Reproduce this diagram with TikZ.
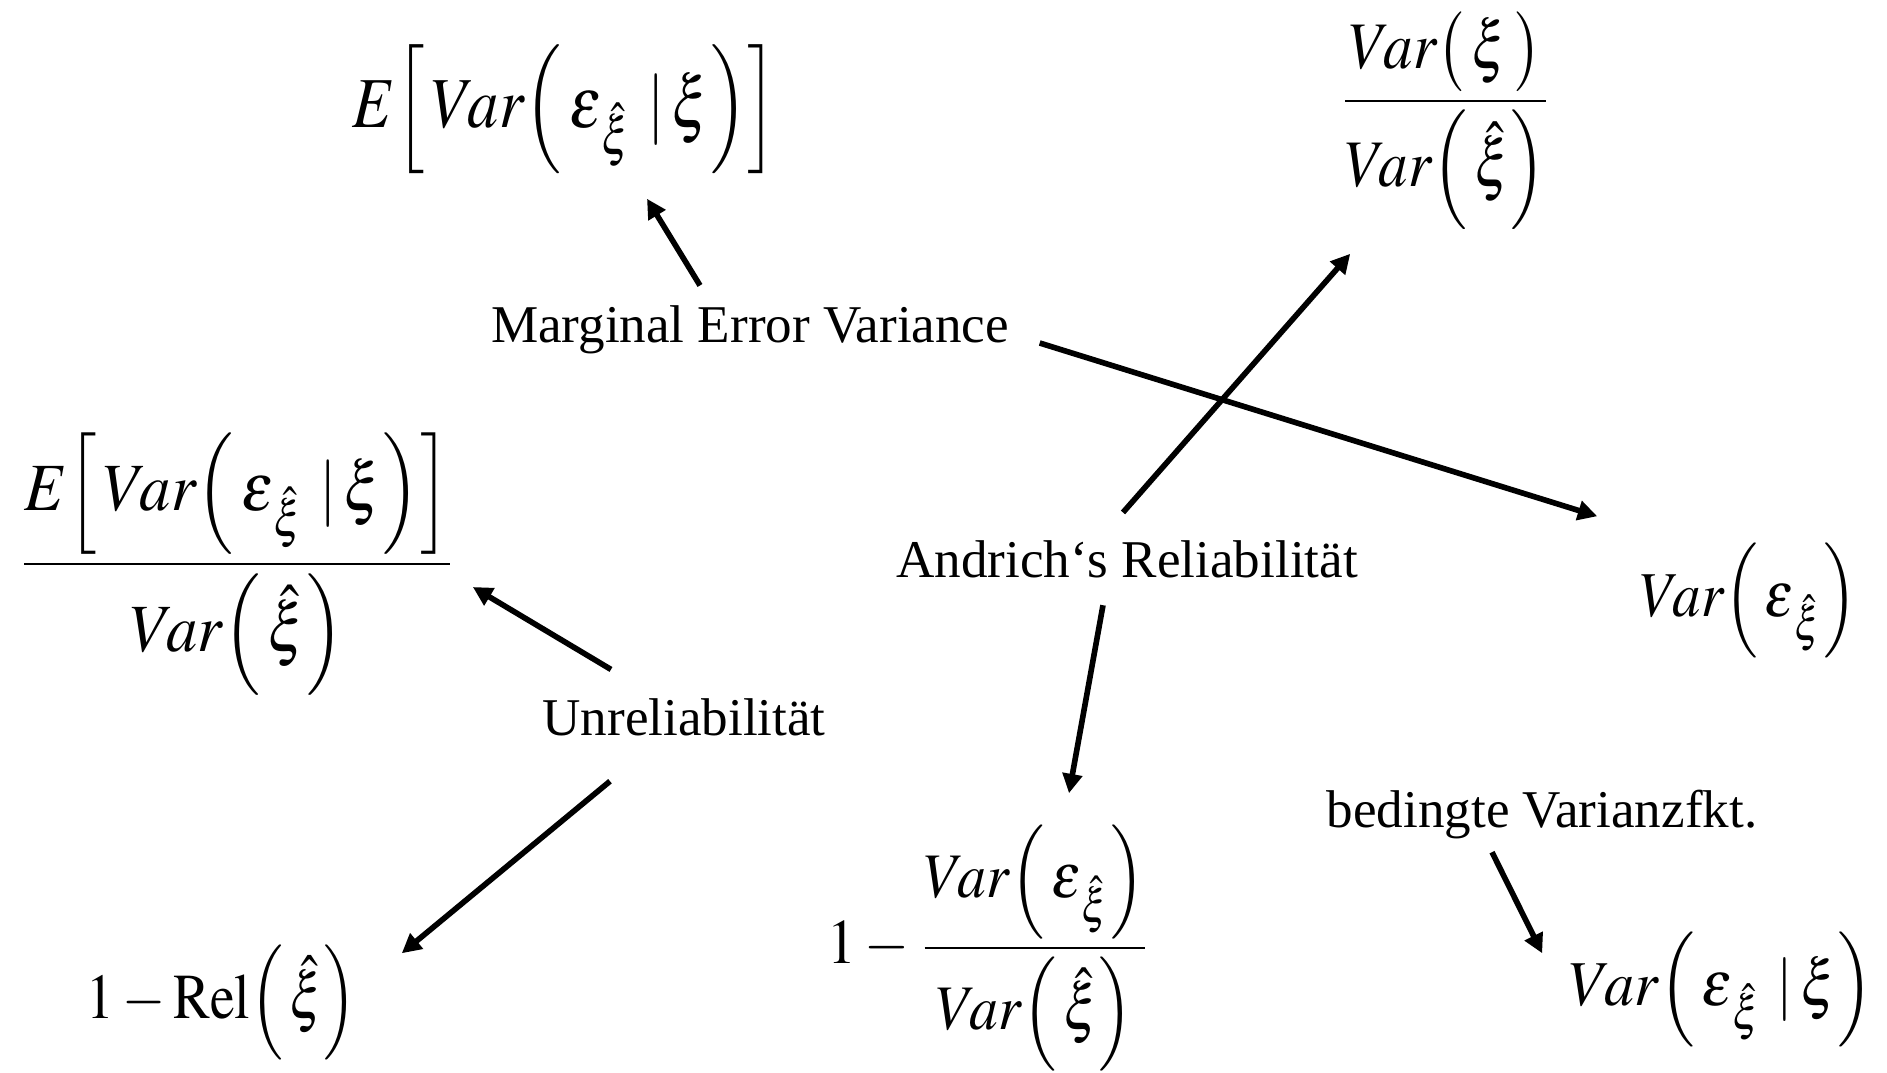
\documentclass[tikz,border=0pt]{standalone}
\usepackage{amsmath}
\usepackage{mathptmx}
\usepackage[no-math]{fontspec}
\setmainfont{Liberation Serif}
\usepackage{graphicx}
\usetikzlibrary{arrows.meta,calc}

% stretch a formula to a given box
\newcommand{\fitmath}[3]{\resizebox*{#1}{#2}{$\displaystyle #3$}}
\newcommand{\errsub}{\varepsilon_{\,\hat{\xi}}}

\begin{document}
\begin{tikzpicture}[
    x=0.01cm, y=-0.01cm,
    mathbox/.style={inner sep=0pt},
    labelbox/.style={inner sep=0pt, anchor=base, font=\fontsize{15.1pt}{18pt}\selectfont},
    arrow/.style={-{Triangle[length=5.5pt,width=5.5pt]}, line width=1.6pt}
]
\useasboundingbox (0,0) rectangle (1887,1072);

% Formulas
\node[mathbox] (eTop) at (565,109.5) {\fitmath{4.24cm}{1.29cm}{E\Bigl[\,Var\Bigl(\,\errsub\;|\,\xi\Bigr)\Bigr]}};
\node[mathbox] (fracTR) at (1445.5,121) {\fitmath{2.15cm}{2.18cm}{\frac{Var\bigl(\,\xi\,\bigr)}{Var\Bigl(\,\hat{\xi}\Bigr)}}};
\node[mathbox] (fracL) at (237,564) {\fitmath{4.40cm}{2.62cm}{\frac{E\Bigl[\,Var\Bigl(\,\errsub\;|\,\xi\Bigr)\Bigr]}{Var\Bigl(\,\hat{\xi}\Bigr)}}};
\node[mathbox] (varE) at (1748.5,600.5) {\fitmath{2.17cm}{1.15cm}{Var\Bigl(\,\errsub\Bigr)}};
\node[mathbox] (varEC) at (1721.5,989.5) {\fitmath{3.03cm}{1.15cm}{Var\Bigl(\,\errsub\;|\,\xi\Bigr)}};
\node[mathbox] (oneRel) at (222,1002.5) {\fitmath{2.70cm}{1.15cm}{1-\mathrm{Rel}\Bigl(\,\hat{\xi}\Bigr)}};
\node[mathbox] (oneFrac) at (990,948) {\fitmath{3.24cm}{2.46cm}{1-\frac{Var\Bigl(\,\errsub\Bigr)}{Var\Bigl(\,\hat{\xi}\Bigr)}}};

% Labels
\node[labelbox] (marg) at (750,342) {Marginal Error Variance};
\node[labelbox] (andr) at (1127,577) {Andrich‘s Reliabilität};
\node[labelbox] (unrel) at (684,735) {Unreliabilität};
\node[labelbox] (bed) at (1542,827) {bedingte Varianzfkt.};

% Connections
\draw[arrow] ([shift={(-50,-19)}]marg.north) -- ([shift={(82,24)}]eTop.south);
\draw[arrow] ([shift={(30,1)}]marg.base east) -- ([shift={(-42,-26)}]varE.north west);
\draw[arrow] ([shift={(-4,-27)}]andr.north) -- ([shift={(13,23)}]fracTR.south west);
\draw[arrow] ([shift={(-24,27)}]andr.south) -- ([shift={(79,-31)}]oneFrac.north);
\draw[arrow] ([shift={(-73,-28)}]unrel.north) -- ([shift={(15,23)}]fracL.east);
\draw[arrow] ([shift={(-74,45)}]unrel.south) -- ([shift={(44,9)}]oneRel.north east);
\draw[arrow] ([shift={(-50,13)}]bed.south) -- ([shift={(-27,22)}]varEC.north west);

\end{tikzpicture}
\end{document}
